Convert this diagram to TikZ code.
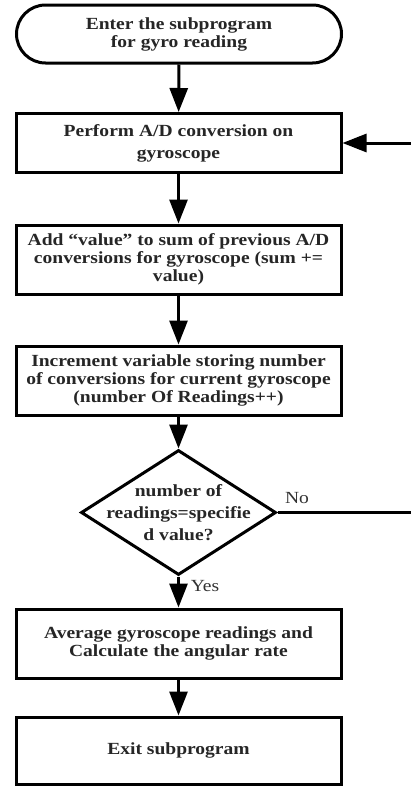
\documentclass[tikz,border=0pt]{standalone}
\usepackage{fontspec}
\setmainfont{Liberation Serif}[FakeStretch=1.15]
\usetikzlibrary{shapes.geometric,arrows.meta}
\tikzset{
  x=1pt, y=-1pt,
  boxtxt/.style={font=\fontsize{17}{18}\selectfont\bfseries, align=center, text=black!85},
  procbox/.style={boxtxt, draw, line width=3pt, minimum width=325pt, inner sep=0pt},
  termbox/.style={procbox, rounded corners=29pt, minimum height=58pt},
  decbox/.style={draw, line width=3pt, shape=diamond, inner sep=0pt, minimum width=195pt, minimum height=125pt},
  flow/.style={line width=3pt, -{Triangle[length=24pt,width=18pt]}},
  plainline/.style={line width=3pt},
  lbl/.style={font=\fontsize{17}{18}\selectfont, text=black!80, inner sep=0pt}
}
\begin{document}
\begin{tikzpicture}
\useasboundingbox (0,0) rectangle (411,787);
\node[termbox] (t) at (179,34) {Enter the subprogram\\for gyro reading};
\node[procbox, minimum height=59pt, font=\fontsize{17}{22}\selectfont\bfseries] (b1) at (178.5,143) {Perform A/D conversion on\\gyroscope};
\node[procbox, minimum height=69pt] (b2) at (178.5,259.5) {Add “value” to sum of previous A/D\\conversions for gyroscope (sum +=\\value)};
\node[procbox, minimum height=69pt] (b3) at (178.5,380.5) {Increment variable storing number\\of conversions for current gyroscope\\(number Of Readings++)};
\node[decbox] (d) at (178.5,512.5) {};
\node[boxtxt, font=\fontsize{17}{22}\selectfont\bfseries, inner sep=0pt] (dt) at (d.center) {number of\\readings=specifie\\d value?};
\node[procbox, minimum height=69pt] (b4) at (178.5,643.5) {Average gyroscope readings and\\Calculate the  angular rate};
\node[procbox, minimum height=67pt] (b5) at (178.5,750.5) {Exit subprogram};
\coordinate (fb) at (411,143);
\coordinate (noend) at (411,512.5);
\draw[flow] (t) -- (b1);
\draw[flow] (b1) -- (b2);
\draw[flow] (b2) -- (b3);
\draw[flow] (b3) -- (d);
\draw[flow] (d) -- (b4);
\draw[flow] (b4) -- (b5);
\draw[flow] (fb) -- (b1);
\draw[plainline] (d.east) -- (noend);
\node[lbl] (no) at (297,498) {No};
\node[lbl] (yes) at (205,586) {Yes};
\end{tikzpicture}
\end{document}
